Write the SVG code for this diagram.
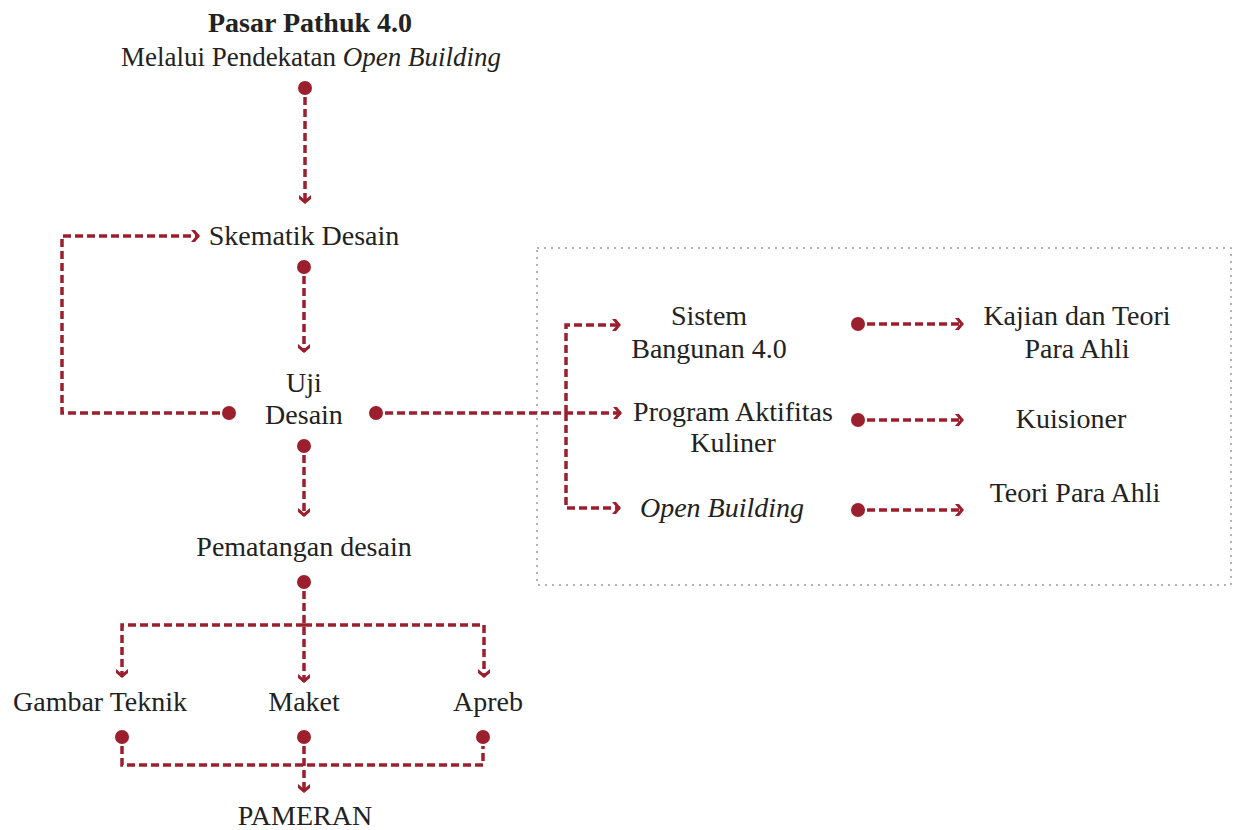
<svg xmlns="http://www.w3.org/2000/svg" width="1240" height="830" viewBox="0 0 1240 830">
<style>
text{font-family:"Liberation Serif","DejaVu Serif",serif;font-size:28px;fill:#222;text-anchor:middle}
.b{font-weight:bold}
.i{font-style:italic}
.c{fill:none;stroke:#9b1f2c;stroke-width:3.5;stroke-dasharray:8 4}
.d{fill:#9b1f2c}
.box{fill:none;stroke:#999;stroke-width:1.5;stroke-dasharray:2 5}
</style>
<defs>
<marker id="a" markerUnits="userSpaceOnUse" viewBox="0 0 10 12" refX="8" refY="6" markerWidth="10" markerHeight="12" orient="auto">
<path d="M0,0 L4,0 L9,6 L4,12 L0,12 L5,6 Z" fill="#9b1f2c"/>
</marker>
</defs>
<rect class="box" x="537" y="248" width="694" height="337"/>
<g id="connectors">
<path class="c" d="M305,97 V203" marker-end="url(#a)"/>
<path class="c" d="M304,276 V352" marker-end="url(#a)"/>
<path class="c" d="M220,413 H62 V236 H199" marker-end="url(#a)"/>
<path class="c" d="M385,413 H621" marker-end="url(#a)"/>
<path class="c" d="M566,413 V325 H620" marker-end="url(#a)"/>
<path class="c" d="M566,413 V508 H620" marker-end="url(#a)"/>
<path class="c" d="M304,455 V516" marker-end="url(#a)"/>
<path class="c" d="M304,591 V682" marker-end="url(#a)"/>
<path class="c" d="M304,625 H122 V677" marker-end="url(#a)"/>
<path class="c" d="M304,625 H484 V677" marker-end="url(#a)"/>
<path class="c" d="M122,746 V765 H483 V746"/>
<path class="c" d="M304,746 V792" marker-end="url(#a)"/>
<path class="c" d="M867,324 H963" marker-end="url(#a)"/>
<path class="c" d="M867,420 H963" marker-end="url(#a)"/>
<path class="c" d="M867,510 H963" marker-end="url(#a)"/>
</g>
<g id="dots">
<circle class="d" cx="305" cy="88" r="7"/>
<circle class="d" cx="304" cy="267" r="7"/>
<circle class="d" cx="229" cy="413" r="7"/>
<circle class="d" cx="376" cy="413" r="7"/>
<circle class="d" cx="304" cy="446" r="7"/>
<circle class="d" cx="304" cy="582" r="7"/>
<circle class="d" cx="122" cy="737" r="7"/>
<circle class="d" cx="304" cy="737" r="7"/>
<circle class="d" cx="483" cy="737" r="7"/>
<circle class="d" cx="858" cy="324" r="7"/>
<circle class="d" cx="858" cy="420" r="7"/>
<circle class="d" cx="858" cy="510" r="7"/>
</g>
<g id="title"><text class="b" x="310" y="32">Pasar Pathuk 4.0</text><text x="311" y="66" style="font-size:27px">Melalui Pendekatan <tspan class="i">Open Building</tspan></text></g>
<g id="skematik"><text x="304" y="245">Skematik Desain</text></g>
<g id="uji"><text x="304" y="392">Uji</text><text x="304" y="424">Desain</text></g>
<g id="pematangan"><text x="304" y="556">Pematangan desain</text></g>
<g id="gambar"><text x="100" y="711">Gambar Teknik</text></g>
<g id="maket"><text x="304" y="711">Maket</text></g>
<g id="apreb"><text x="488" y="711">Apreb</text></g>
<g id="pameran"><text x="305" y="825">PAMERAN</text></g>
<g id="sistem"><text x="709" y="325">Sistem</text><text x="709" y="358">Bangunan 4.0</text></g>
<g id="program"><text x="733" y="421">Program Aktifitas</text><text x="733" y="452">Kuliner</text></g>
<g id="openbuilding"><text class="i" x="722" y="517">Open Building</text></g>
<g id="kajian"><text x="1077" y="325">Kajian dan Teori</text><text x="1077" y="358">Para Ahli</text></g>
<g id="kuisioner"><text x="1071" y="428">Kuisioner</text></g>
<g id="teori"><text x="1075" y="502">Teori Para Ahli</text></g>
</svg>
